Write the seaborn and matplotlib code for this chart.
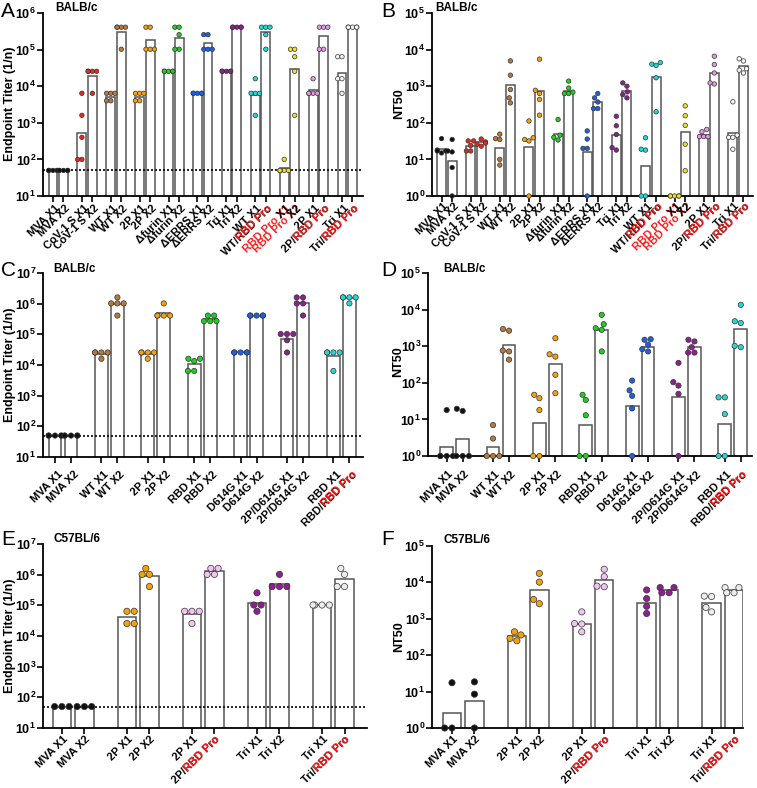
import warnings
warnings.filterwarnings('ignore')
import numpy as np
import pandas as pd
import matplotlib
matplotlib.use('Agg')
import matplotlib.pyplot as plt
from matplotlib.ticker import NullLocator
from matplotlib.transforms import offset_copy
import seaborn as sns

# ------------------------------------------------------------------ data
# Panel A  (BALB/c, endpoint titer)
a_labels = ["MVA X1", "MVA X2", "CoV-1 S X1", "CoV-1 S X2", "WT X1", "WT X2",
            "2P X1", "2P X2", "Δfurin X1", "Δfurin X2", "ΔERRS X1", "ΔERRS X2",
            "Tri X1", "Tri X2", "WT X1", "WT/{RBD Pro}", "{RBD Pro} X1", "{RBD Pro} X2",
            "2P X1", "2P/{RBD Pro}", "Tri X1", "Tri/{RBD Pro}"]
a_colors = ["#111111", "#e8281e", "#b8793b", "#f5a20a", "#22cc22", "#2060e0",
            "#8e1f8e", "#20d8d8", "#f0e020", "#e09be0", "#f4f4f4"]
a_points = [
    [50, 50, 50, 50, 50], [50, 50, 50, 50, 50],
    [6400, 1600, 400, 100, 100], [25600, 25600, 25600, 25600, 6400],
    [6400, 6400, 6400, 4000, 4000], [409600, 409600, 409600, 409600, 102400],
    [6400, 6400, 6400, 4000, 4000], [409600, 409600, 102400, 102400, 102400],
    [25600, 25600, 25600, 25600, 25600], [409600, 409600, 256000, 102400, 102400],
    [6400, 6400, 6400, 6400, 6400], [256000, 256000, 102400, 102400, 102400],
    [25600, 25600, 25600, 25600, 25600], [409600, 409600, 409600, 409600, 409600],
    [16000, 6400, 6400, 6400, 1600], [409600, 409600, 409600, 256000, 102400],
    [100, 50, 50, 50, 50], [102400, 102400, 64000, 25600, 1600],
    [16000, 6400, 6400, 6400, 6400], [409600, 409600, 409600, 102400, 102400],
    [64000, 64000, 16000, 16000, 6400], [409600, 409600, 409600, 409600, 409600],
]
a_bars = [50, 50, 525, 19400, 5000, 310000, 5000, 178000, 25600, 210000,
          6400, 148000, 25600, 409600, 5900, 300000, 57, 30000, 7700, 235000,
          23000, 409600]

# Panel B  (BALB/c, NT50)
b_labels = a_labels
b_colors = a_colors
b_points = [
    [37, 18, 17, 17, 15], [35, 17, 16, 6, 1],
    [32, 32, 24, 17, 17], [36, 30, 28, 26, 23],
    [49, 37, 35, 10, 7], [4900, 2000, 810, 480, 350],
    [112, 39, 35, 32, 1], [5500, 775, 630, 435, 162],
    [123, 46, 40, 34], [1380, 890, 690, 630, 630],
    [60, 36, 20, 20, 1], [630, 480, 370, 245, 245],
    [151, 83, 48, 21, 18], [1230, 1000, 700, 590, 480],
    [39, 19, 18, 1, 1], [4400, 4000, 3700, 1700, 200],
    [1, 1, 1, 1, 1], [290, 156, 85, 26, 4.9],
    [66, 57, 42, 42, 42], [6600, 3900, 2300, 1230, 1150],
    [375, 46, 40, 40, 19], [5600, 4900, 3000, 2750, 2300],
]
b_bars = [19, 8.8, 23.5, 30, 21, 1070, 21.5, 730, 51, 740, 15.5, 370,
          46, 740, 6.6, 1800, 1, 55, 46, 2350, 53, 3500]

# Panel C  (BALB/c, endpoint titer)
c_labels = ["MVA X1", "MVA X2", "WT X1", "WT X2", "2P X1", "2P X2", "RBD X1", "RBD X2",
            "D614G X1", "D614G X2", "2P/D614G X1", "2P/D614G X2", "RBD X1", "RBD/{RBD Pro}"]
c_colors = ["#111111", "#b8793b", "#f5a20a", "#22cc22", "#2060e0", "#8e1f8e", "#20d8d8"]
c_points = [
    [50, 50, 50, 50, 50], [50, 50, 50, 50, 50],
    [25600, 25600, 25600, 25600, 16000], [1600000, 1020000, 1020000, 1020000, 410000],
    [25600, 25600, 25600, 25600, 16000], [1020000, 409600, 409600, 409600, 409600],
    [16000, 16000, 13500, 6400, 6400], [409600, 409600, 270000, 270000, 270000],
    [25600, 25600, 25600, 25600, 25600], [409600, 409600, 409600, 409600, 409600],
    [102400, 102400, 102400, 64000, 25600], [1600000, 1600000, 1020000, 1020000, 410000],
    [25600, 25600, 25600, 25600, 6400], [1600000, 1600000, 1600000, 1600000, 1020000],
]
c_bars = [50, 50, 23000, 1000000, 23000, 490000, 10500, 316000, 25600, 409600,
          70000, 1020000, 19500, 1550000]

# Panel D  (BALB/c, NT50)
d_labels = c_labels
d_colors = c_colors
d_points = [
    [18, 1, 1, 1, 1], [19.5, 17, 1, 1, 1],
    [7, 3, 1, 1, 1], [2950, 2650, 760, 720, 430],
    [47, 38, 18, 1, 1], [1650, 600, 520, 166, 52],
    [47, 34, 13, 1, 1], [7200, 4000, 3100, 2800, 720],
    [115, 62, 44, 20, 1], [1550, 1500, 1100, 830, 720],
    [350, 104, 84, 50, 1], [1500, 1350, 940, 670, 670],
    [40, 40, 14, 1, 1], [13500, 4800, 4300, 1020, 940],
]
d_bars = [1.75, 3.0, 1.8, 1080, 7.8, 335, 7.2, 2700, 23, 970, 42, 960, 7.4, 3000]

# Panel E  (C57BL/6, endpoint titer)
e_labels = ["MVA X1", "MVA X2", "2P X1", "2P X2", "2P X1", "2P/{RBD Pro}",
            "Tri X1", "Tri X2", "Tri X1", "Tri/{RBD Pro}"]
e_colors = ["#111111", "#f5a20a", "#f2c2f2", "#8e1f8e", "#ececec"]
e_points = [
    [50, 50, 50], [50, 50, 50],
    [64000, 64000, 25600, 25600], [1600000, 1020000, 1020000, 409600],
    [64000, 64000, 64000, 25600], [1600000, 1600000, 1020000, 1020000],
    [256000, 102400, 102400, 64000], [1020000, 409600, 409600, 409600],
    [102400, 102400, 102400, 102400], [1600000, 1020000, 409600, 409600],
]
e_bars = [50, 50, 40500, 900000, 51000, 1270000, 115000, 510000, 102400, 730000]

# Panel F  (C57BL/6, NT50)
f_labels = e_labels
f_colors = e_colors
f_points = [
    [17.5, 1, 1], [18.5, 8.5, 1],
    [440, 360, 290, 250], [17700, 10200, 3400, 2600],
    [1550, 740, 720, 440], [23000, 14400, 7900, 7600],
    [6200, 3600, 2200, 1400], [7200, 7200, 5200, 5200],
    [4200, 4100, 2050, 1550], [7200, 7200, 5200, 5200],
]
f_bars = [2.6, 5.4, 330, 6200, 720, 11500, 2800, 6100, 2700, 6000]

LOD = 50

# ------------------------------------------------------------------ style
sns.set_theme(style='ticks')
plt.rcParams['font.family'] = ['Liberation Sans', 'DejaVu Sans']
plt.rcParams['font.weight'] = 'bold'
plt.rcParams['mathtext.fontset'] = 'custom'
plt.rcParams['mathtext.bf'] = 'Liberation Sans:bold'
plt.rcParams['mathtext.rm'] = 'Liberation Sans:bold'
plt.rcParams['mathtext.it'] = 'Liberation Sans:bold'
for k in ['axes.edgecolor', 'text.color', 'xtick.color', 'ytick.color', 'axes.labelcolor']:
    plt.rcParams[k] = 'black'

RED = '#ff1a1a'
W, H = 757, 788
fig = plt.figure(figsize=(W / 100, H / 100), dpi=100)
fig.patch.set_facecolor('white')


def px_axes(x0, x1, y0, y1):
    return fig.add_axes([x0 / W, 1 - y1 / H, (x1 - x0) / W, (y1 - y0) / H])


def positions(n_pairs, pair_step):
    pos = []
    for i in range(n_pairs):
        pos += [i * pair_step, i * pair_step + 1]
    return pos


def panel(box, labels, colors, points, bars, ylim_exp, xlim, pair_step, bar_w,
          dot, lod, lab_dx, lab_dy, ylabel, ylab_xy, letter, letter_xy,
          strain, strain_xy):
    ax = px_axes(*box)
    ax.set_yscale('log')
    pos = positions(len(labels) // 2, pair_step)
    cols = [colors[i // 2] for i in range(len(labels))]

    bdf = pd.DataFrame({'pos': pos, 'h': bars})
    sns.barplot(data=bdf, x='pos', y='h', native_scale=True, width=bar_w,
                color='white', edgecolor='#555555', linewidth=1.1,
                errorbar=None, ax=ax, zorder=1)

    if lod is not None:
        ax.axhline(lod, color='black', lw=1.2, ls=(0, (1.2, 1.2)), zorder=2)

    rows = []
    for i, vals in enumerate(points):
        for v in vals:
            rows.append({'pos': pos[i], 'v': v, 'g': f'c{i}'})
    pdf = pd.DataFrame(rows)
    pal = {f'c{i}': cols[i] for i in range(len(labels))}
    n_before = len(ax.collections)
    sns.swarmplot(data=pdf, x='pos', y='v', hue='g', palette=pal, native_scale=True,
                  size=dot, linewidth=0.5, edgecolor='#333333', legend=False,
                  ax=ax, zorder=3)
    for coll in ax.collections[n_before:]:
        coll.set_clip_on(False)

    ax.set_xlim(*xlim)
    ax.set_ylim(10 ** ylim_exp[0], 10 ** ylim_exp[1])
    exps = list(range(ylim_exp[0], ylim_exp[1] + 1))
    ax.set_yticks([10.0 ** e for e in exps])
    ax.set_yticklabels([r'$\mathbf{10^{%d}}$' % e for e in exps])
    ax.yaxis.set_minor_locator(NullLocator())
    ax.set_xticks(pos)
    ax.set_xticklabels([])
    ax.xaxis.set_minor_locator(NullLocator())
    ax.set_xlabel('')
    ax.set_ylabel('')
    ax.tick_params(axis='y', length=4, width=1.2, pad=1, labelsize=9)
    ax.tick_params(axis='x', length=4, width=1.2)
    sns.despine(ax=ax)
    for s in ['left', 'bottom']:
        ax.spines[s].set_linewidth(1.3)
        ax.spines[s].set_color('black')

    tr = offset_copy(ax.get_xaxis_transform(), fig=fig, x=lab_dx, y=lab_dy, units='dots')
    kw = dict(transform=tr, rotation=45, rotation_mode='anchor', ha='right',
              va='baseline', fontsize=8, fontweight='bold', clip_on=False)
    for x, lab in zip(pos, labels):
        if '{' in lab:
            pre, rest = lab.split('{')
            red, post = rest.split('}')
            full = pre + red + post
            if post:
                ax.text(x, 0, full, color=RED, **kw)
                ax.text(x, 0, post, color='black', **kw)
            else:
                ax.text(x, 0, full, color='black', **kw)
                ax.text(x, 0, red, color=RED, **kw)
        else:
            ax.text(x, 0, lab, color='black', **kw)

    fig.text(ylab_xy[0] / W, 1 - ylab_xy[1] / H, ylabel, rotation=90, ha='center',
             va='center', fontsize=9, fontweight='bold')
    fig.text(letter_xy[0] / W, 1 - letter_xy[1] / H, letter, ha='left', va='top',
             fontsize=15, fontweight='normal')
    fig.text(strain_xy[0] / W, 1 - strain_xy[1] / H, strain, ha='left', va='center',
             fontsize=8.5, fontweight='bold')
    return ax


panel((43, 363, 13, 196), a_labels, a_colors, a_points, a_bars, (1, 6), (-0.95, 29.5),
      2.75, 0.85, 3.2, LOD, 7, -13, 'Endpoint Titer (1/n)', (10, 104), 'A', (1, 2),
      'BALB/c', (55, 8))
panel((432, 753, 13, 196), b_labels, b_colors, b_points, b_bars, (0, 5), (-0.9, 29.4),
      2.75, 0.85, 3.2, None, 7, -11, 'NT50', (399, 104), 'B', (381, 2),
      'BALB/c', (435, 8))
panel((43, 363, 273, 457), c_labels, c_colors, c_points, c_bars, (1, 7), (-0.75, 19.25),
      2.9, 0.8, 3.8, LOD, 8, -18, 'Endpoint Titer (1/n)', (10, 365), 'C', (1, 261),
      'BALB/c', (53, 269))
panel((428, 752, 273, 456), d_labels, d_colors, d_points, d_bars, (0, 5), (-1.17, 19.1),
      2.9, 0.8, 3.8, None, 7, -19, 'NT50', (398, 362), 'D', (381, 261),
      'BALB/c', (443, 269))
panel((43, 367, 544, 728), e_labels, e_colors, e_points, e_bars, (1, 7), (-0.84, 13.56),
      2.89, 0.82, 4.5, LOD, 6, -12, 'Endpoint Titer (1/n)', (10, 636), 'E', (1, 530),
      'C57BL/6', (53, 539))
panel((432, 743, 546, 728), f_labels, f_colors, f_points, f_bars, (0, 5), (-0.89, 12.96),
      2.89, 0.82, 4.5, None, 6, -12, 'NT50', (399, 637), 'F', (381, 530),
      'C57BL/6', (443, 540))

fig.savefig('out.png', dpi=100, facecolor='white')
